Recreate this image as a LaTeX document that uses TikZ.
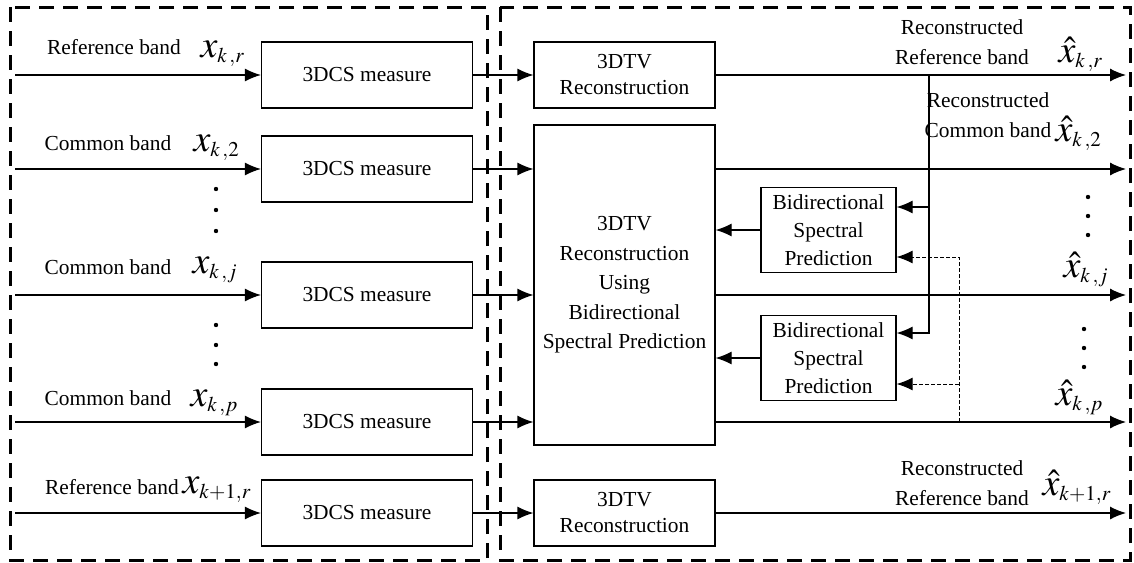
\documentclass[tikz,border=0pt]{standalone}
\usepackage{mathptmx}
\usepackage{fontspec}
\setmainfont{Liberation Serif}
\usepackage{tikz}
\usetikzlibrary{arrows.meta}
\DeclareMathSizes{19}{19}{10.5}{8}
\tikzset{edge/.style = {-{Latex[length=8pt,width=6.5pt]}}}

\begin{document}
\begin{tikzpicture}[x=0.5pt,y=-0.5pt,line width=0.6pt,
    block/.style={draw,inner sep=0pt,align=center,font=\fontsize{10.7}{13}\selectfont},
    meas/.style={block,minimum width=105.5pt,minimum height=33pt},
    tv/.style={block,minimum width=90.5pt,minimum height=33pt},
    bsp/.style={block,minimum width=67.5pt,minimum height=42.5pt,font=\fontsize{10.7}{14}\selectfont},
    lbl/.style={align=center,inner sep=0pt,font=\fontsize{10.7}{15}\selectfont},
    sym/.style={anchor=base west,inner sep=0pt,font=\fontsize{19}{19}\selectfont},
    region/.style={dash pattern=on 7.5pt off 4.5pt,line width=1.5pt},
    feed/.style={edge,dash pattern=on 1.8pt off 1.2pt,line width=0.5pt},
    dot/.style={circle,fill,inner sep=0pt,minimum size=2.2pt}]
    \useasboundingbox (0,0) rectangle (1134,562);

    % encoder side and decoder side
    \draw[region] (10,7) rectangle (487,560);
    \draw[region] (500,7) rectangle (1130,560);

    % measurement blocks
    \node[meas] (m1) at (367,75) {3DCS measure};
    \node[meas] (m2) at (367,169) {3DCS measure};
    \node[meas] (m3) at (367,295) {3DCS measure};
    \node[meas] (m4) at (367,422) {3DCS measure};
    \node[meas] (m5) at (367,513) {3DCS measure};

    % reconstruction blocks
    \node[tv] (r1) at (624.5,75) {3DTV\\Reconstruction};
    \node[tv,minimum height=160pt,font=\fontsize{10.7}{14.75}\selectfont] (big) at (624.5,285)
        {3DTV\\Reconstruction\\Using\\Bidirectional\\Spectral Prediction};
    \node[tv] (r5) at (624.5,513) {3DTV\\Reconstruction};
    \node[bsp] (p1) at (828.5,230) {Bidirectional\\Spectral\\Prediction};
    \node[bsp] (p2) at (828.5,358) {Bidirectional\\Spectral\\Prediction};

    % input and output ends
    \coordinate (i1) at (15,75);
    \coordinate (i2) at (15,169);
    \coordinate (i3) at (15,295);
    \coordinate (i4) at (15,422);
    \coordinate (i5) at (15,513);
    \coordinate (o1) at (1126,75);
    \coordinate (o2) at (1126,169);
    \coordinate (o3) at (1126,295);
    \coordinate (o4) at (1126,422);
    \coordinate (o5) at (1126,513);

    \draw[edge] (i1) -- (m1);
    \draw[edge] (i2) -- (m2);
    \draw[edge] (i3) -- (m3);
    \draw[edge] (i4) -- (m4);
    \draw[edge] (i5) -- (m5);

    \draw[edge] (m1) -- (r1);
    \draw[edge] (m2) -- (m2 -| big.west);
    \draw[edge] (m3) -- (m3 -| big.west);
    \draw[edge] (m4) -- (m4 -| big.west);
    \draw[edge] (m5) -- (r5);

    \draw[edge] (r1) -- (o1);
    \draw[edge] (big.east |- o2) -- (o2);
    \draw[edge] (big.east |- o3) -- (o3);
    \draw[edge] (big.east |- o4) -- (o4);
    \draw[edge] (r5) -- (o5);

    % reference band fed to the predictions
    \coordinate (tap) at (929,75);
    \coordinate (t1) at (929,207);
    \coordinate (t2) at (929,333);
    \draw[edge] (tap) |- (t2 -| p2.east);
    \draw[edge] (t1) -- (t1 -| p1.east);

    % next reference band (dashed)
    \coordinate (d0) at (959,422);
    \coordinate (d1) at (959,257);
    \coordinate (d2) at (959,384);
    \draw[feed] (d0) |- (d1 -| p1.east);
    \draw[feed] (d2) -- (d2 -| p2.east);

    \draw[edge] (p1) -- (p1 -| big.east);
    \draw[edge] (p2) -- (p2 -| big.east);

    % labels
    \node[lbl] (l1) at (114,47) {Reference band};
    \node[lbl] (l2) at (108,143) {Common band};
    \node[lbl] (l3) at (108,267) {Common band};
    \node[lbl] (l4) at (108,398) {Common band};
    \node[lbl] (l5) at (112,487) {Reference band};
    \node[sym] (x1) at (200,57) {$x_{k\,,r}$};
    \node[sym] (x2) at (193,151) {$x_{k\,,2}$};
    \node[sym] (x3) at (192,273) {$x_{k\,,j}$};
    \node[sym] (x4) at (190,406) {$x_{k\,,p}$};
    \node[sym] (x5) at (182,493) {$x_{k+1,r}$};

    \node[lbl] (q1) at (962,42) {Reconstructed\\Reference band};
    \node[lbl] (q2) at (988,115) {Reconstructed\\Common band};
    \node[lbl] (q5) at (962,483) {Reconstructed\\Reference band};
    \node[sym] (y1) at (1058,62) {$\hat{x}_{k\,,r}$};
    \node[sym] (y2) at (1055,141) {$\hat{x}_{k\,,2}$};
    \node[sym] (y3) at (1063,277) {$\hat{x}_{k\,,j}$};
    \node[sym] (y4) at (1055,405) {$\hat{x}_{k\,,p}$};
    \node[sym] (y5) at (1042,495) {$\hat{x}_{k+1,r}$};

    % vertical dots
    \node[dot] (a1) at (216,189) {};
    \node[dot] (a2) at (216,210) {};
    \node[dot] (a3) at (216,231) {};
    \node[dot] (a4) at (216,325) {};
    \node[dot] (a5) at (216,345) {};
    \node[dot] (a6) at (216,364) {};
    \node[dot] (b1) at (1088,197) {};
    \node[dot] (b2) at (1088,216) {};
    \node[dot] (b3) at (1088,235) {};
    \node[dot] (b4) at (1084,329) {};
    \node[dot] (b5) at (1084,348) {};
    \node[dot] (b6) at (1084,367) {};
\end{tikzpicture}
\end{document}
